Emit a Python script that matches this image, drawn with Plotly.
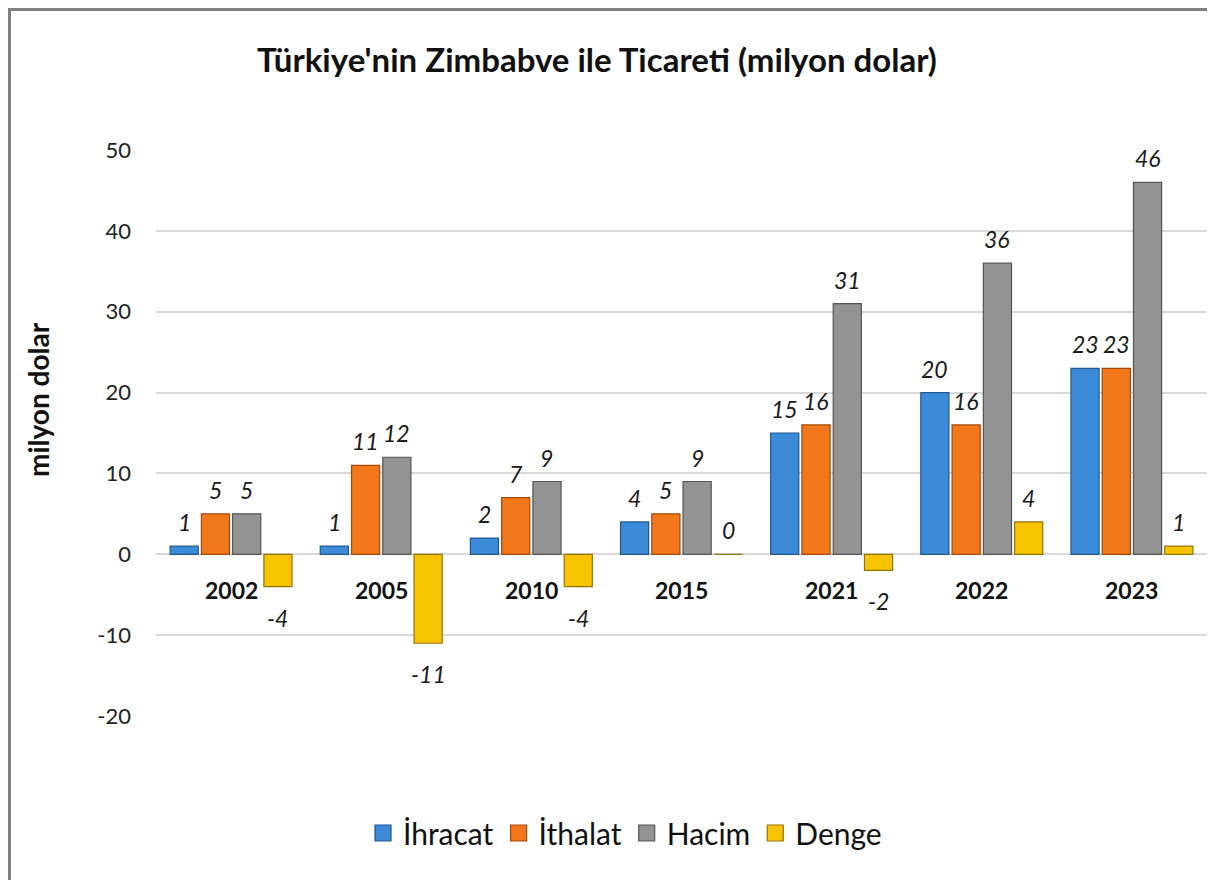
import plotly.graph_objects as go

# Türkiye - Zimbabve ticaret verileri (milyon dolar)
years = ["2002", "2005", "2010", "2015", "2021", "2022", "2023"]
ihracat = [1, 1, 2, 4, 15, 20, 23]
ithalat = [5, 11, 7, 5, 16, 16, 23]
hacim = [5, 12, 9, 9, 31, 36, 46]
denge = [-4, -11, -4, 0, -2, 4, 1]
y_ticks = [-20, -10, 0, 10, 20, 30, 40, 50]

series_names = ["İhracat", "İthalat", "Hacim", "Denge"]
series_values = [ihracat, ithalat, hacim, denge]
fill_colors = ["#3c8bd9", "#f2771b", "#939393", "#f6c400"]
line_colors = ["#21598f", "#a24a0a", "#545454", "#94740a"]

FONT = "Lato"
# the page adds an 8px body margin, so the figure is a bit smaller than the window
W, H = 1207, 872
ML, MR, MT, MB = 148, 8, 142, 164
plot_w = W - ML - MR
plot_h = H - MT - MB
BARGAP = 0.167
GROUPGAP = 0.1

fig = go.Figure()

for name, vals, fc, lc in zip(series_names, series_values, fill_colors, line_colors):
    fig.add_trace(go.Bar(
        x=years, y=vals, name=name, showlegend=False,
        marker=dict(color=fc, line=dict(color=lc, width=1.2)),
        hoverinfo="x+y+name"))
    # legend proxy with a larger square symbol
    fig.add_trace(go.Scatter(
        x=[None], y=[None], mode="markers", name=name,
        marker=dict(symbol="square", size=16, color=fc,
                    line=dict(color=lc, width=1.2))))

# data labels above / below each bar (x given as category index)
slot = plot_w / len(years) * (1 - BARGAP) / len(series_values)
annotations = []
for i, vals in enumerate(series_values):
    for j, v in enumerate(vals):
        annotations.append(dict(
            x=j, y=v, xref="x", yref="y", text=str(v), showarrow=False,
            xshift=(i - 1.5) * slot, yshift=24 if v >= 0 else -31,
            yanchor="middle", font=dict(family=FONT, size=23, color="#1a1a1a", style="italic")))

# category labels sitting just below the zero line
for j, yr in enumerate(years):
    annotations.append(dict(
        x=j, y=0, xref="x", yref="y", text="<b>%s</b>" % yr, showarrow=False,
        yshift=-36, yanchor="middle", font=dict(family=FONT, size=23, color="#111111")))

# y axis title
annotations.append(dict(
    x=(30 - ML) / plot_w, y=(H - MB - 392) / plot_h, xref="paper", yref="paper",
    text="<b>milyon dolar</b>", textangle=-90, showarrow=False,
    xanchor="center", yanchor="middle", font=dict(family=FONT, size=28, color="#111111")))

fig.update_layout(
    width=W, height=H,
    margin=dict(l=ML, r=MR, t=MT, b=MB),
    paper_bgcolor="white", plot_bgcolor="white",
    barmode="group", bargap=BARGAP, bargroupgap=GROUPGAP,
    font=dict(family=FONT, size=20, color="#222222"),
    title=dict(text="<b>Türkiye'nin Zimbabve ile Ticareti (milyon dolar)</b>",
               x=589 / W, xanchor="center", y=1 - 52 / H, yanchor="middle",
               xref="container", yref="container",
               font=dict(family=FONT, size=33, color="#111111")),
    xaxis=dict(type="category", categoryorder="array", categoryarray=years,
               range=[-0.5, len(years) - 0.5],
               showticklabels=False, showgrid=False, zeroline=False, showline=False),
    yaxis=dict(range=[-20, 50], tickvals=y_ticks, ticktext=[str(t) for t in y_ticks],
               showgrid=True, gridcolor="#d9d9d9", gridwidth=1.5,
               zeroline=True, zerolinecolor="#d9d9d9", zerolinewidth=1.5, showline=False,
               ticks="", ticklabelstandoff=24,
               tickfont=dict(family=FONT, size=22, color="#222222")),
    legend=dict(orientation="h", xref="container", yref="container",
                x=617 / W, xanchor="center", y=1 - 825 / H, yanchor="middle",
                font=dict(family=FONT, size=30, color="#111111"),
                itemwidth=30, tracegroupgap=0),
    annotations=annotations,
    # grey chart frame; only the left and top edges fall inside the picture
    shapes=[dict(type="rect", xref="paper", yref="paper",
                 x0=(1.5 - ML) / plot_w, x1=1.2, y0=-0.6, y1=(H - MB - 1.5) / plot_h,
                 line=dict(color="#808080", width=3), layer="below")],
)

fig.write_html("out.html")
